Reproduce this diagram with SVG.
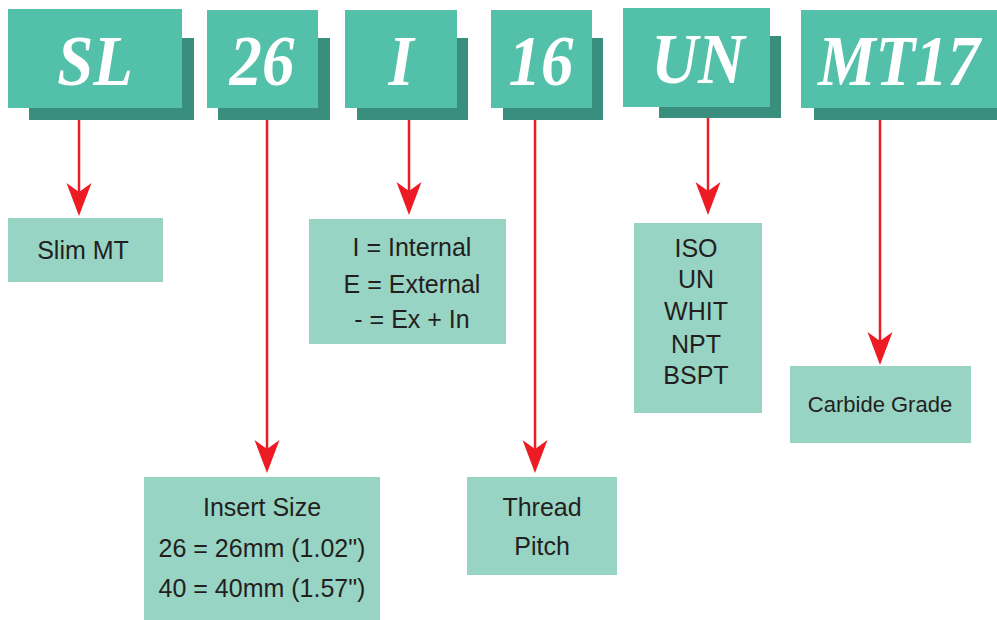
<svg xmlns="http://www.w3.org/2000/svg" width="997" height="620" viewBox="0 0 997 620">
<style>
.front{fill:#53C0A9}
.shadow{fill:#3A8E7E}
.lbl{fill:#97D4C4}
.code{font-family:"Liberation Serif","Times New Roman",serif;font-weight:bold;font-style:italic;font-size:72px;fill:#FFFFFF;text-anchor:middle}
.txt{font-family:"Liberation Sans",Arial,sans-serif;font-size:25px;fill:#231F20;text-anchor:middle}
.small{font-size:22px}
.conn line{stroke:#ED1C24;stroke-width:2.5;fill:none}
.conn path{fill:#ED1C24}
</style>
<rect width="997" height="620" fill="#FFFFFF"/>
<g id="code-SL">
<rect class="shadow" x="29" y="38" width="165" height="82"/>
<rect class="front" x="8" y="9" width="174" height="99"/>
<text class="code" transform="translate(95,85) scale(0.9,1)">SL</text>
</g>
<g id="code-26">
<rect class="shadow" x="218" y="38" width="112" height="82"/>
<rect class="front" x="207" y="10" width="111" height="98"/>
<text class="code" transform="translate(262,85) scale(0.9,1)">26</text>
</g>
<g id="code-I">
<rect class="shadow" x="357" y="38" width="111" height="82"/>
<rect class="front" x="345" y="10" width="112" height="98"/>
<text class="code" transform="translate(401,85) scale(0.9,1)">I</text>
</g>
<g id="code-16">
<rect class="shadow" x="503" y="38" width="100" height="82"/>
<rect class="front" x="491" y="10" width="101" height="98"/>
<text class="code" transform="translate(541,85) scale(0.9,1)">16</text>
</g>
<g id="code-UN">
<rect class="shadow" x="659" y="36" width="122" height="82"/>
<rect class="front" x="623" y="8" width="147" height="99"/>
<text class="code" transform="translate(698,83) scale(0.9,1)">UN</text>
</g>
<g id="code-MT17">
<rect class="shadow" x="814" y="38" width="183" height="82"/>
<rect class="front" x="801" y="10" width="196" height="98"/>
<text class="code" transform="translate(899,85) scale(0.9,1)">MT17</text>
</g>
<g class="conn" id="connectors">
<line x1="79" y1="120" x2="79" y2="194"/>
<path d="M79,216 L66.5,183 L79,192 L91.5,183 Z"/>
<line x1="267" y1="120" x2="267" y2="451"/>
<path d="M267,473 L254.5,440 L267,449 L279.5,440 Z"/>
<line x1="409" y1="120" x2="409" y2="193"/>
<path d="M409,215 L396.5,182 L409,191 L421.5,182 Z"/>
<line x1="535" y1="120" x2="535" y2="451"/>
<path d="M535,473 L522.5,440 L535,449 L547.5,440 Z"/>
<line x1="708" y1="118" x2="708" y2="193"/>
<path d="M708,215 L695.5,182 L708,191 L720.5,182 Z"/>
<line x1="880" y1="120" x2="880" y2="343"/>
<path d="M880,365 L867.5,332 L880,341 L892.5,332 Z"/>
</g>
<g id="label-slim">
<rect class="lbl" x="8" y="218" width="155" height="64"/>
<text class="txt" x="83" y="259">Slim MT</text>
</g>
<g id="label-size">
<rect class="lbl" x="144" y="477" width="236" height="143"/>
<text class="txt" x="262" y="516">Insert Size</text>
<text class="txt" x="262" y="557">26 = 26mm (1.02")</text>
<text class="txt" x="262" y="597">40 = 40mm (1.57")</text>
</g>
<g id="label-type">
<rect class="lbl" x="309" y="219" width="197" height="125"/>
<text class="txt" x="412" y="256">I = Internal</text>
<text class="txt" x="412" y="293">E = External</text>
<text class="txt" x="412" y="328">- = Ex + In</text>
</g>
<g id="label-pitch">
<rect class="lbl" x="467" y="477" width="150" height="98"/>
<text class="txt" x="542" y="516">Thread</text>
<text class="txt" x="542" y="555">Pitch</text>
</g>
<g id="label-profile">
<rect class="lbl" x="634" y="223" width="128" height="190"/>
<text class="txt" x="696" y="257">ISO</text>
<text class="txt" x="696" y="288">UN</text>
<text class="txt" x="696" y="320">WHIT</text>
<text class="txt" x="696" y="353">NPT</text>
<text class="txt" x="696" y="384">BSPT</text>
</g>
<g id="label-grade">
<rect class="lbl" x="790" y="366" width="181" height="77"/>
<text class="txt small" x="880" y="412">Carbide Grade</text>
</g>
</svg>
